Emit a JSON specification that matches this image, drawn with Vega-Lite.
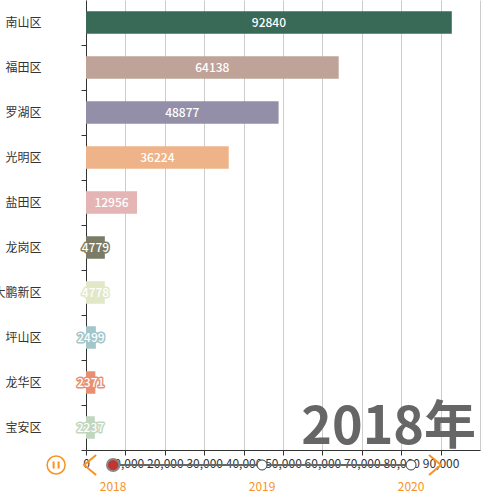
{
  "$schema": "https://vega.github.io/schema/vega-lite/v6.json",
  "width": 394,
  "height": 450,
  "autosize": "none",
  "padding": {"left": 86, "top": 0, "right": 10, "bottom": 50},
  "datasets": {
    "districts": [
      {"district": "南山区", "value": 92840},
      {"district": "福田区", "value": 64138},
      {"district": "罗湖区", "value": 48877},
      {"district": "光明区", "value": 36224},
      {"district": "盐田区", "value": 12956},
      {"district": "龙岗区", "value": 4779},
      {"district": "大鹏新区", "value": 4778},
      {"district": "坪山区", "value": 2499},
      {"district": "龙华区", "value": 2371},
      {"district": "宝安区", "value": 2237}
    ],
    "timeline": [
      {"year": 2018, "current": true},
      {"year": 2019, "current": false},
      {"year": 2020, "current": false}
    ],
    "stamp": [{"label": "2018年"}]
  },
  "layer": [
    {
      "data": {"name": "districts"},
      "layer": [
        {
          "mark": {"type": "bar"},
          "encoding": {
            "y": {
              "field": "district",
              "type": "nominal",
              "sort": ["南山区", "福田区", "罗湖区", "光明区", "盐田区", "龙岗区", "大鹏新区", "坪山区", "龙华区", "宝安区"],
              "scale": {"paddingInner": 0.5, "paddingOuter": 0.25},
              "axis": {
                "title": null,
                "domainColor": "#333",
                "tickColor": "#333",
                "tickSize": 5,
                "tickOffset": 22.5,
                "labelOffset": -22.5,
                "labelPadding": 40,
                "labelFontSize": 12,
                "labelColor": "#333",
                "labelBound": false
              }
            },
            "x": {
              "field": "value",
              "type": "quantitative",
              "scale": {"domain": [0, 100000]},
              "axis": {
                "title": null,
                "values": [0, 10000, 20000, 30000, 40000, 50000, 60000, 70000, 80000, 90000, 100000],
                "labelExpr": "datum.value >= 100000 ? '' : format(datum.value, ',')",
                "labelOverlap": false,
                "labelFlush": false,
                "labelFontSize": 12,
                "labelColor": "#333",
                "labelPadding": 3,
                "grid": true,
                "gridColor": "#ccc",
                "domainColor": "#333",
                "tickSize": 5,
                "tickColor": {"condition": {"test": "datum.value >= 100000", "value": "transparent"}, "value": "#333"}
              }
            },
            "color": {
              "field": "district",
              "type": "nominal",
              "scale": {
                "domain": ["南山区", "福田区", "罗湖区", "光明区", "盐田区", "龙岗区", "大鹏新区", "坪山区", "龙华区", "宝安区"],
                "range": ["#386a57", "#bfa398", "#948fa8", "#efb389", "#e5b4b4", "#7b7b66", "#e1e8c8", "#a2c6ca", "#e98e72", "#c1d6be"]
              },
              "legend": null
            }
          }
        },
        {
          "data": {"name": "stamp"},
          "mark": {"type": "text", "align": "right", "baseline": "alphabetic", "dx": -4, "dy": -6, "fontSize": 52, "fontWeight": "bold", "color": "#666"},
          "encoding": {
            "text": {"field": "label"},
            "x": {"value": "width"},
            "y": {"value": "height"}
          }
        }
      ]
    },
    {
      "data": {"name": "districts"},
      "encoding": {
        "y": {
          "field": "district",
          "type": "nominal",
          "sort": ["南山区", "福田区", "罗湖区", "光明区", "盐田区", "龙岗区", "大鹏新区", "坪山区", "龙华区", "宝安区"],
          "scale": {"type": "band", "paddingInner": 0.5, "paddingOuter": 0.25},
          "axis": null
        },
        "x": {"field": "value", "type": "quantitative", "scale": {"domain": [0, 200000]}, "axis": null},
        "text": {"field": "value", "type": "quantitative", "format": "d"}
      },
      "layer": [
        {
          "mark": {"type": "text", "fontSize": 12, "fontWeight": 500, "strokeWidth": 3, "strokeJoin": "round", "fill": "white"},
          "encoding": {
            "stroke": {
              "field": "district",
              "type": "nominal",
              "scale": {
                "domain": ["南山区", "福田区", "罗湖区", "光明区", "盐田区", "龙岗区", "大鹏新区", "坪山区", "龙华区", "宝安区"],
                "range": ["#386a57", "#bfa398", "#948fa8", "#efb389", "#e5b4b4", "#7b7b66", "#e1e8c8", "#a2c6ca", "#e98e72", "#c1d6be"]
              },
              "legend": null
            }
          }
        },
        {
          "mark": {"type": "text", "fontSize": 12, "fontWeight": 500, "fill": "white"}
        }
      ]
    },
    {
      "data": {"name": "timeline"},
      "encoding": {
        "x": {"field": "year", "type": "quantitative", "scale": {"domain": [2017.818, 2020.463]}, "axis": null},
        "y": {"value": "height"}
      },
      "layer": [
        {"mark": {"type": "line", "yOffset": 15, "color": "#666", "strokeWidth": 2}},
        {
          "transform": [{"filter": "!datum.current"}],
          "mark": {"type": "point", "shape": "circle", "size": 100, "filled": true, "fill": "white", "stroke": "#304654", "strokeWidth": 1, "opacity": 1, "yOffset": 15}
        },
        {
          "transform": [{"filter": "datum.current"}],
          "mark": {"type": "point", "shape": "circle", "size": 150, "filled": true, "fill": "#c23531", "stroke": "#888", "strokeWidth": 2, "opacity": 1, "yOffset": 15}
        },
        {
          "mark": {"type": "text", "yOffset": 37, "color": "#f7931e", "fontSize": 12},
          "encoding": {"text": {"field": "year", "type": "nominal"}}
        },
        {
          "transform": [{"filter": "datum.year == 2018"}],
          "mark": {"type": "point", "shape": "M0.6,-1L-0.6,0L0.6,1", "size": 400, "filled": false, "stroke": "#f7931e", "strokeWidth": 2, "opacity": 1, "xOffset": -23, "yOffset": 15}
        },
        {
          "transform": [{"filter": "datum.year == 2020"}],
          "mark": {"type": "point", "shape": "M-0.6,-1L0.6,0L-0.6,1", "size": 400, "filled": false, "stroke": "#f7931e", "strokeWidth": 2, "opacity": 1, "xOffset": 24, "yOffset": 15}
        },
        {
          "transform": [{"filter": "datum.year == 2018"}],
          "mark": {"type": "point", "shape": "circle", "size": 324, "filled": false, "stroke": "#f7931e", "strokeWidth": 1.5, "opacity": 1, "xOffset": -57, "yOffset": 15}
        },
        {
          "transform": [{"filter": "datum.year == 2018"}],
          "mark": {"type": "point", "shape": "M-0.5,-0.7L-0.5,0.7M0.5,-0.7L0.5,0.7", "size": 100, "filled": false, "stroke": "#f7931e", "strokeWidth": 2, "opacity": 1, "xOffset": -57, "yOffset": 15}
        }
      ]
    }
  ],
  "resolve": {"scale": {"x": "independent", "y": "independent"}},
  "config": {
    "view": {"stroke": null},
    "background": "white",
    "font": "Noto Sans CJK SC"
  }
}
